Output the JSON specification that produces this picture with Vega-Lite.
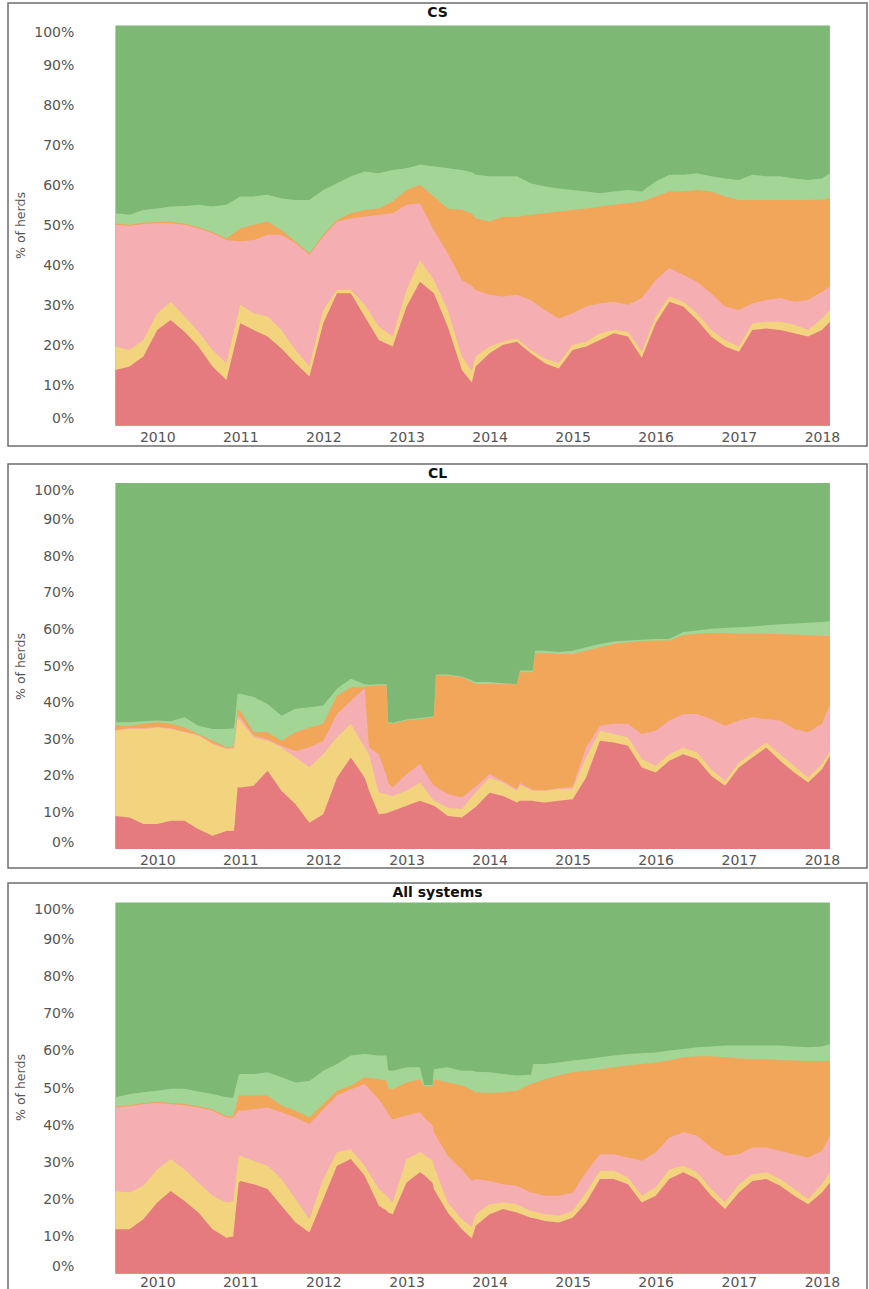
{
  "$schema": "https://vega.github.io/schema/vega-lite/v6.json",
  "background": "white",
  "padding": {"left": 7, "top": 2, "right": 3, "bottom": 0},
  "spacing": 16,
  "config": {
    "view": {"stroke": "#6e6e6e", "strokeWidth": 1.5},
    "axis": {"grid": false, "ticks": false, "domain": false, "labelFont": "DejaVu Sans", "labelFontSize": 14, "labelColor": "#555555", "titleFont": "DejaVu Sans", "titleFontWeight": "normal", "titleColor": "#555555", "titleFontSize": 12.5},
    "title": {"font": "DejaVu Sans", "fontSize": 14, "fontWeight": "bold", "color": "#111111", "anchor": "middle", "frame": "group", "baseline": "top", "offset": -17},
    "area": {"interpolate": "linear"},
    "rule": {"color": "#d9d9d9", "strokeWidth": 1}
  },
  "datasets": {
    "cs": [
      {"date":"2009-07-01","red":13.9,"yellow":19.8,"pink":50.2,"orange":50.5,"lightgreen":53.1},
      {"date":"2009-09-01","red":14.8,"yellow":18.9,"pink":49.9,"orange":50.2,"lightgreen":52.7},
      {"date":"2009-11-01","red":17.3,"yellow":21.4,"pink":50.4,"orange":50.7,"lightgreen":53.9},
      {"date":"2010-01-01","red":23.9,"yellow":28.1,"pink":50.6,"orange":50.9,"lightgreen":54.3},
      {"date":"2010-03-01","red":26.4,"yellow":31.0,"pink":50.6,"orange":50.9,"lightgreen":54.8},
      {"date":"2010-05-01","red":23.5,"yellow":27.3,"pink":50.2,"orange":50.5,"lightgreen":54.9},
      {"date":"2010-07-01","red":19.8,"yellow":23.5,"pink":49.3,"orange":49.6,"lightgreen":55.2},
      {"date":"2010-09-01","red":14.8,"yellow":18.9,"pink":48.1,"orange":48.4,"lightgreen":54.8},
      {"date":"2010-11-01","red":11.4,"yellow":15.6,"pink":46.4,"orange":46.8,"lightgreen":55.2},
      {"date":"2011-01-01","red":25.6,"yellow":30.2,"pink":46.0,"orange":49.3,"lightgreen":57.3},
      {"date":"2011-03-01","red":23.9,"yellow":28.1,"pink":46.4,"orange":50.2,"lightgreen":57.3},
      {"date":"2011-05-01","red":22.3,"yellow":27.3,"pink":47.7,"orange":51.0,"lightgreen":57.7},
      {"date":"2011-07-01","red":19.3,"yellow":23.9,"pink":47.7,"orange":48.9,"lightgreen":56.8},
      {"date":"2011-09-01","red":15.6,"yellow":18.9,"pink":45.6,"orange":46.0,"lightgreen":56.4},
      {"date":"2011-11-01","red":12.3,"yellow":14.8,"pink":42.7,"orange":43.1,"lightgreen":56.4},
      {"date":"2012-01-01","red":25.6,"yellow":28.9,"pink":47.3,"orange":47.7,"lightgreen":58.9},
      {"date":"2012-03-01","red":33.1,"yellow":33.9,"pink":51.0,"orange":51.4,"lightgreen":60.6},
      {"date":"2012-05-01","red":33.1,"yellow":33.9,"pink":51.8,"orange":53.1,"lightgreen":62.3},
      {"date":"2012-07-01","red":27.3,"yellow":30.2,"pink":52.3,"orange":53.9,"lightgreen":63.5},
      {"date":"2012-09-01","red":21.4,"yellow":24.8,"pink":52.7,"orange":54.3,"lightgreen":63.1},
      {"date":"2012-11-01","red":19.8,"yellow":22.3,"pink":53.1,"orange":56.0,"lightgreen":63.9},
      {"date":"2013-01-01","red":29.8,"yellow":33.9,"pink":55.2,"orange":58.9,"lightgreen":64.3},
      {"date":"2013-03-01","red":36.0,"yellow":41.4,"pink":55.6,"orange":60.2,"lightgreen":65.2},
      {"date":"2013-05-01","red":33.1,"yellow":36.4,"pink":48.9,"orange":57.3,"lightgreen":64.8},
      {"date":"2013-07-01","red":24.8,"yellow":28.9,"pink":43.1,"orange":54.3,"lightgreen":64.3},
      {"date":"2013-09-01","red":13.9,"yellow":17.3,"pink":36.4,"orange":53.9,"lightgreen":63.9},
      {"date":"2013-10-15","red":10.8,"yellow":13.6,"pink":35.0,"orange":53.0,"lightgreen":63.3},
      {"date":"2013-11-01","red":14.8,"yellow":17.3,"pink":33.9,"orange":51.8,"lightgreen":62.7},
      {"date":"2014-01-01","red":18.1,"yellow":19.8,"pink":32.7,"orange":51.0,"lightgreen":62.3},
      {"date":"2014-03-01","red":20.2,"yellow":21.0,"pink":32.3,"orange":52.2,"lightgreen":62.3},
      {"date":"2014-05-01","red":21.0,"yellow":21.8,"pink":32.7,"orange":52.2,"lightgreen":62.3},
      {"date":"2014-07-01","red":18.1,"yellow":18.9,"pink":31.4,"orange":52.7,"lightgreen":60.6},
      {"date":"2014-09-01","red":15.6,"yellow":16.8,"pink":28.9,"orange":53.1,"lightgreen":59.8},
      {"date":"2014-11-01","red":14.3,"yellow":15.6,"pink":26.8,"orange":53.5,"lightgreen":59.3},
      {"date":"2015-01-01","red":18.9,"yellow":20.2,"pink":28.1,"orange":53.9,"lightgreen":58.9},
      {"date":"2015-03-01","red":19.8,"yellow":21.0,"pink":29.8,"orange":54.3,"lightgreen":58.5},
      {"date":"2015-05-01","red":21.4,"yellow":23.1,"pink":30.6,"orange":54.8,"lightgreen":58.1},
      {"date":"2015-07-01","red":23.1,"yellow":23.9,"pink":31.0,"orange":55.2,"lightgreen":58.5},
      {"date":"2015-09-01","red":22.3,"yellow":23.5,"pink":30.2,"orange":55.6,"lightgreen":58.9},
      {"date":"2015-11-01","red":17.0,"yellow":18.5,"pink":31.9,"orange":56.0,"lightgreen":58.5},
      {"date":"2016-01-01","red":25.6,"yellow":27.3,"pink":36.4,"orange":57.3,"lightgreen":61.0},
      {"date":"2016-03-01","red":31.0,"yellow":32.3,"pink":39.4,"orange":58.5,"lightgreen":62.7},
      {"date":"2016-05-01","red":29.8,"yellow":31.0,"pink":37.7,"orange":58.5,"lightgreen":62.7},
      {"date":"2016-07-01","red":26.4,"yellow":28.1,"pink":36.0,"orange":58.9,"lightgreen":63.1},
      {"date":"2016-09-01","red":22.3,"yellow":23.9,"pink":33.1,"orange":58.5,"lightgreen":62.3},
      {"date":"2016-11-01","red":19.8,"yellow":21.4,"pink":29.8,"orange":57.3,"lightgreen":61.8},
      {"date":"2017-01-01","red":18.5,"yellow":19.8,"pink":28.9,"orange":56.4,"lightgreen":61.4},
      {"date":"2017-03-01","red":23.9,"yellow":25.6,"pink":30.6,"orange":56.4,"lightgreen":62.7},
      {"date":"2017-05-01","red":24.3,"yellow":26.0,"pink":31.4,"orange":56.4,"lightgreen":62.3},
      {"date":"2017-07-01","red":23.9,"yellow":26.0,"pink":31.9,"orange":56.4,"lightgreen":62.3},
      {"date":"2017-09-01","red":23.1,"yellow":25.2,"pink":31.0,"orange":56.4,"lightgreen":61.8},
      {"date":"2017-11-01","red":22.3,"yellow":23.9,"pink":31.4,"orange":56.4,"lightgreen":61.4},
      {"date":"2018-01-01","red":23.9,"yellow":26.8,"pink":33.5,"orange":56.5,"lightgreen":61.8},
      {"date":"2018-02-05","red":26.0,"yellow":28.9,"pink":34.8,"orange":56.8,"lightgreen":63.1}
    ],
    "cl": [
      {"date":"2009-07-01","red":9.0,"yellow":32.3,"pink":32.5,"orange":33.7,"lightgreen":34.6},
      {"date":"2009-09-01","red":8.6,"yellow":32.8,"pink":33.0,"orange":33.7,"lightgreen":34.6},
      {"date":"2009-11-01","red":6.8,"yellow":32.8,"pink":33.0,"orange":34.2,"lightgreen":34.9},
      {"date":"2010-01-01","red":6.8,"yellow":33.2,"pink":33.4,"orange":34.6,"lightgreen":35.1},
      {"date":"2010-03-01","red":7.7,"yellow":32.8,"pink":33.0,"orange":34.2,"lightgreen":34.9},
      {"date":"2010-05-01","red":7.7,"yellow":31.9,"pink":32.1,"orange":33.2,"lightgreen":36.0},
      {"date":"2010-07-01","red":5.4,"yellow":31.0,"pink":31.2,"orange":31.4,"lightgreen":33.7},
      {"date":"2010-09-01","red":3.6,"yellow":28.7,"pink":28.9,"orange":29.6,"lightgreen":32.8},
      {"date":"2010-11-01","red":4.9,"yellow":27.3,"pink":27.5,"orange":27.8,"lightgreen":32.8},
      {"date":"2010-12-05","red":5.0,"yellow":27.5,"pink":27.7,"orange":28.0,"lightgreen":33.0},
      {"date":"2010-12-20","red":16.8,"yellow":35.5,"pink":36.5,"orange":38.0,"lightgreen":42.4},
      {"date":"2011-01-01","red":16.8,"yellow":35.1,"pink":36.0,"orange":37.8,"lightgreen":42.4},
      {"date":"2011-03-01","red":17.3,"yellow":30.5,"pink":31.0,"orange":31.9,"lightgreen":41.5},
      {"date":"2011-05-01","red":21.4,"yellow":29.6,"pink":30.0,"orange":31.9,"lightgreen":39.6},
      {"date":"2011-07-01","red":15.9,"yellow":27.8,"pink":28.2,"orange":29.6,"lightgreen":36.4},
      {"date":"2011-09-01","red":12.2,"yellow":25.0,"pink":26.8,"orange":31.9,"lightgreen":38.3},
      {"date":"2011-11-01","red":7.2,"yellow":22.3,"pink":27.8,"orange":33.2,"lightgreen":38.7},
      {"date":"2012-01-01","red":9.5,"yellow":25.9,"pink":29.6,"orange":34.2,"lightgreen":39.2},
      {"date":"2012-03-01","red":19.5,"yellow":30.5,"pink":36.9,"orange":41.9,"lightgreen":43.8},
      {"date":"2012-05-01","red":25.0,"yellow":34.2,"pink":40.5,"orange":44.2,"lightgreen":46.5},
      {"date":"2012-07-01","red":19.5,"yellow":27.8,"pink":43.9,"orange":44.4,"lightgreen":45.0},
      {"date":"2012-07-20","red":15.9,"yellow":25.9,"pink":27.8,"orange":44.5,"lightgreen":44.9},
      {"date":"2012-09-01","red":9.5,"yellow":15.4,"pink":25.9,"orange":44.7,"lightgreen":45.0},
      {"date":"2012-10-05","red":9.8,"yellow":15.0,"pink":20.0,"orange":44.7,"lightgreen":45.0},
      {"date":"2012-10-12","red":10.0,"yellow":14.8,"pink":18.0,"orange":34.4,"lightgreen":34.7},
      {"date":"2012-11-01","red":10.4,"yellow":14.5,"pink":16.8,"orange":34.2,"lightgreen":34.5},
      {"date":"2013-01-01","red":11.8,"yellow":15.9,"pink":20.5,"orange":35.1,"lightgreen":35.4},
      {"date":"2013-03-01","red":13.2,"yellow":18.2,"pink":23.2,"orange":35.5,"lightgreen":35.8},
      {"date":"2013-05-01","red":11.8,"yellow":13.2,"pink":17.3,"orange":36.0,"lightgreen":36.3},
      {"date":"2013-05-10","red":11.5,"yellow":13.0,"pink":17.0,"orange":47.4,"lightgreen":47.7},
      {"date":"2013-07-01","red":9.0,"yellow":11.3,"pink":15.0,"orange":47.4,"lightgreen":47.7},
      {"date":"2013-09-01","red":8.6,"yellow":10.9,"pink":14.1,"orange":46.9,"lightgreen":47.1},
      {"date":"2013-11-01","red":11.5,"yellow":15.5,"pink":17.0,"orange":45.1,"lightgreen":45.6},
      {"date":"2014-01-01","red":15.4,"yellow":19.5,"pink":20.5,"orange":45.1,"lightgreen":45.6},
      {"date":"2014-03-01","red":14.5,"yellow":18.2,"pink":18.6,"orange":45.0,"lightgreen":45.3},
      {"date":"2014-05-01","red":12.7,"yellow":15.9,"pink":16.4,"orange":45.0,"lightgreen":45.1},
      {"date":"2014-05-15","red":13.2,"yellow":17.5,"pink":18.0,"orange":48.3,"lightgreen":48.8},
      {"date":"2014-07-10","red":13.2,"yellow":15.9,"pink":16.2,"orange":48.3,"lightgreen":48.8},
      {"date":"2014-07-20","red":13.0,"yellow":15.9,"pink":16.2,"orange":53.5,"lightgreen":54.2},
      {"date":"2014-09-01","red":12.7,"yellow":15.9,"pink":16.0,"orange":53.5,"lightgreen":54.2},
      {"date":"2014-11-01","red":13.2,"yellow":16.4,"pink":16.7,"orange":53.3,"lightgreen":53.8},
      {"date":"2015-01-01","red":13.6,"yellow":16.4,"pink":17.0,"orange":53.2,"lightgreen":54.2},
      {"date":"2015-03-01","red":19.5,"yellow":25.0,"pink":27.7,"orange":54.2,"lightgreen":55.1},
      {"date":"2015-05-01","red":29.6,"yellow":32.3,"pink":33.7,"orange":55.1,"lightgreen":56.0},
      {"date":"2015-07-01","red":29.1,"yellow":31.4,"pink":34.2,"orange":56.0,"lightgreen":56.7},
      {"date":"2015-09-01","red":28.2,"yellow":30.5,"pink":34.2,"orange":56.5,"lightgreen":57.0},
      {"date":"2015-11-01","red":22.3,"yellow":24.6,"pink":31.4,"orange":56.8,"lightgreen":57.2},
      {"date":"2016-01-01","red":20.9,"yellow":22.7,"pink":32.3,"orange":57.0,"lightgreen":57.4},
      {"date":"2016-03-01","red":24.1,"yellow":25.9,"pink":35.1,"orange":57.0,"lightgreen":57.4},
      {"date":"2016-05-01","red":25.9,"yellow":27.7,"pink":36.9,"orange":58.4,"lightgreen":59.3},
      {"date":"2016-07-01","red":24.6,"yellow":26.4,"pink":36.9,"orange":58.8,"lightgreen":59.7},
      {"date":"2016-09-01","red":20.0,"yellow":21.8,"pink":35.5,"orange":59.0,"lightgreen":60.2},
      {"date":"2016-11-01","red":17.3,"yellow":18.6,"pink":33.7,"orange":59.0,"lightgreen":60.4},
      {"date":"2017-01-01","red":22.3,"yellow":23.6,"pink":35.1,"orange":58.8,"lightgreen":60.6},
      {"date":"2017-03-01","red":25.0,"yellow":26.4,"pink":36.0,"orange":58.8,"lightgreen":60.8},
      {"date":"2017-05-01","red":27.7,"yellow":29.1,"pink":35.5,"orange":58.8,"lightgreen":61.1},
      {"date":"2017-07-01","red":24.1,"yellow":25.9,"pink":35.1,"orange":58.7,"lightgreen":61.4},
      {"date":"2017-09-01","red":20.9,"yellow":22.7,"pink":32.8,"orange":58.6,"lightgreen":61.6},
      {"date":"2017-11-01","red":18.2,"yellow":19.5,"pink":31.9,"orange":58.4,"lightgreen":61.8},
      {"date":"2018-01-01","red":21.8,"yellow":23.2,"pink":34.2,"orange":58.2,"lightgreen":62.0},
      {"date":"2018-02-05","red":25.5,"yellow":26.8,"pink":39.6,"orange":58.1,"lightgreen":62.3}
    ],
    "all": [
      {"date":"2009-07-01","red":12.0,"yellow":22.3,"pink":44.8,"orange":45.1,"lightgreen":47.5},
      {"date":"2009-09-01","red":12.0,"yellow":21.9,"pink":45.1,"orange":45.4,"lightgreen":48.4},
      {"date":"2009-11-01","red":14.7,"yellow":23.7,"pink":45.7,"orange":46.0,"lightgreen":48.9},
      {"date":"2010-01-01","red":19.2,"yellow":28.1,"pink":46.0,"orange":46.3,"lightgreen":49.3},
      {"date":"2010-03-01","red":22.3,"yellow":30.9,"pink":45.7,"orange":46.0,"lightgreen":49.8},
      {"date":"2010-05-01","red":19.6,"yellow":28.1,"pink":45.4,"orange":45.7,"lightgreen":49.8},
      {"date":"2010-07-01","red":16.5,"yellow":24.6,"pink":44.8,"orange":45.1,"lightgreen":49.1},
      {"date":"2010-09-01","red":12.0,"yellow":21.0,"pink":43.9,"orange":44.2,"lightgreen":48.4},
      {"date":"2010-11-01","red":9.7,"yellow":19.2,"pink":42.1,"orange":42.5,"lightgreen":47.5},
      {"date":"2010-12-01","red":10.0,"yellow":19.5,"pink":42.0,"orange":42.4,"lightgreen":47.4},
      {"date":"2010-12-25","red":24.5,"yellow":31.5,"pink":44.0,"orange":48.0,"lightgreen":53.5},
      {"date":"2011-01-01","red":25.0,"yellow":31.8,"pink":43.9,"orange":48.0,"lightgreen":53.8},
      {"date":"2011-03-01","red":24.1,"yellow":30.4,"pink":44.3,"orange":48.0,"lightgreen":53.8},
      {"date":"2011-05-01","red":22.8,"yellow":29.1,"pink":44.8,"orange":48.0,"lightgreen":54.3},
      {"date":"2011-07-01","red":18.3,"yellow":25.5,"pink":43.5,"orange":45.3,"lightgreen":52.9},
      {"date":"2011-09-01","red":13.8,"yellow":20.1,"pink":42.1,"orange":43.9,"lightgreen":51.5},
      {"date":"2011-11-01","red":11.1,"yellow":14.7,"pink":40.3,"orange":42.1,"lightgreen":51.9},
      {"date":"2012-01-01","red":20.1,"yellow":25.5,"pink":44.3,"orange":45.7,"lightgreen":54.7},
      {"date":"2012-03-01","red":29.1,"yellow":32.7,"pink":48.0,"orange":49.3,"lightgreen":56.5},
      {"date":"2012-05-01","red":30.9,"yellow":33.5,"pink":49.7,"orange":50.7,"lightgreen":58.8},
      {"date":"2012-07-01","red":26.4,"yellow":29.1,"pink":51.1,"orange":52.9,"lightgreen":59.2},
      {"date":"2012-09-01","red":18.3,"yellow":22.8,"pink":47.0,"orange":52.4,"lightgreen":58.8},
      {"date":"2012-10-05","red":17.0,"yellow":21.0,"pink":44.0,"orange":52.0,"lightgreen":58.8},
      {"date":"2012-10-12","red":16.5,"yellow":20.5,"pink":43.0,"orange":50.0,"lightgreen":54.8},
      {"date":"2012-11-01","red":16.0,"yellow":19.2,"pink":41.6,"orange":49.7,"lightgreen":54.7},
      {"date":"2013-01-01","red":24.6,"yellow":30.9,"pink":42.6,"orange":51.5,"lightgreen":55.6},
      {"date":"2013-03-01","red":27.3,"yellow":32.7,"pink":43.5,"orange":52.4,"lightgreen":55.6},
      {"date":"2013-03-20","red":26.5,"yellow":32.0,"pink":42.0,"orange":50.5,"lightgreen":50.8},
      {"date":"2013-04-25","red":24.5,"yellow":30.5,"pink":40.0,"orange":50.5,"lightgreen":50.8},
      {"date":"2013-05-01","red":22.8,"yellow":29.1,"pink":38.1,"orange":52.4,"lightgreen":55.1},
      {"date":"2013-07-01","red":16.5,"yellow":19.2,"pink":31.8,"orange":51.5,"lightgreen":55.6},
      {"date":"2013-09-01","red":12.0,"yellow":14.7,"pink":28.1,"orange":50.7,"lightgreen":54.7},
      {"date":"2013-10-15","red":9.5,"yellow":12.5,"pink":25.0,"orange":49.5,"lightgreen":54.7},
      {"date":"2013-11-01","red":12.9,"yellow":16.0,"pink":25.5,"orange":48.9,"lightgreen":54.4},
      {"date":"2014-01-01","red":16.0,"yellow":18.7,"pink":25.0,"orange":48.7,"lightgreen":54.3},
      {"date":"2014-03-01","red":17.4,"yellow":19.2,"pink":24.1,"orange":48.9,"lightgreen":53.8},
      {"date":"2014-05-01","red":16.5,"yellow":18.7,"pink":23.7,"orange":49.3,"lightgreen":53.4},
      {"date":"2014-07-01","red":15.1,"yellow":16.9,"pink":21.9,"orange":51.1,"lightgreen":53.6},
      {"date":"2014-07-12","red":15.0,"yellow":16.8,"pink":21.8,"orange":51.3,"lightgreen":56.5},
      {"date":"2014-09-01","red":14.2,"yellow":16.0,"pink":21.0,"orange":52.4,"lightgreen":56.5},
      {"date":"2014-11-01","red":13.8,"yellow":15.6,"pink":21.0,"orange":53.4,"lightgreen":56.9},
      {"date":"2015-01-01","red":15.1,"yellow":16.9,"pink":21.9,"orange":54.3,"lightgreen":57.4},
      {"date":"2015-03-01","red":19.2,"yellow":21.9,"pink":27.3,"orange":54.7,"lightgreen":57.8},
      {"date":"2015-05-01","red":25.5,"yellow":27.7,"pink":32.2,"orange":55.1,"lightgreen":58.3},
      {"date":"2015-07-01","red":25.5,"yellow":27.7,"pink":32.2,"orange":55.6,"lightgreen":58.8},
      {"date":"2015-09-01","red":24.1,"yellow":25.9,"pink":31.3,"orange":56.1,"lightgreen":59.2},
      {"date":"2015-11-01","red":19.2,"yellow":21.0,"pink":30.4,"orange":56.5,"lightgreen":59.4},
      {"date":"2016-01-01","red":21.0,"yellow":23.2,"pink":32.7,"orange":56.9,"lightgreen":59.6},
      {"date":"2016-03-01","red":25.5,"yellow":28.1,"pink":36.7,"orange":57.4,"lightgreen":60.1},
      {"date":"2016-05-01","red":27.3,"yellow":29.1,"pink":38.1,"orange":58.3,"lightgreen":60.5},
      {"date":"2016-07-01","red":25.5,"yellow":27.3,"pink":37.2,"orange":58.6,"lightgreen":61.0},
      {"date":"2016-09-01","red":21.0,"yellow":22.8,"pink":34.0,"orange":58.6,"lightgreen":61.2},
      {"date":"2016-11-01","red":17.4,"yellow":19.2,"pink":31.8,"orange":58.3,"lightgreen":61.5},
      {"date":"2017-01-01","red":21.9,"yellow":24.1,"pink":32.2,"orange":58.0,"lightgreen":61.5},
      {"date":"2017-03-01","red":25.0,"yellow":26.8,"pink":34.0,"orange":57.8,"lightgreen":61.5},
      {"date":"2017-05-01","red":25.5,"yellow":27.3,"pink":34.0,"orange":57.8,"lightgreen":61.5},
      {"date":"2017-07-01","red":23.7,"yellow":25.5,"pink":33.1,"orange":57.6,"lightgreen":61.5},
      {"date":"2017-09-01","red":21.0,"yellow":22.8,"pink":32.2,"orange":57.4,"lightgreen":61.2},
      {"date":"2017-11-01","red":18.7,"yellow":20.1,"pink":31.3,"orange":57.3,"lightgreen":61.0},
      {"date":"2018-01-01","red":21.9,"yellow":24.1,"pink":33.1,"orange":57.2,"lightgreen":61.2},
      {"date":"2018-02-05","red":24.6,"yellow":27.3,"pink":37.2,"orange":57.4,"lightgreen":61.9}
    ]
  },
  "vconcat": [
    {
      "title": "CS",
      "width": 859, "height": 443,
      "data": {"name": "cs"},
      "encoding": {"x": {"field": "date", "type": "temporal", "scale": {"type": "utc", "nice": false, "domain": [{"year":2008,"month":3,"date":16,"utc":true},{"year":2018,"month":7,"date":18,"utc":true}]}, "axis": {"orient": "bottom", "offset": -20.3, "values": [{"year":2010,"utc":true},{"year":2011,"utc":true},{"year":2012,"utc":true},{"year":2013,"utc":true},{"year":2014,"utc":true},{"year":2015,"utc":true},{"year":2016,"utc":true},{"year":2017,"utc":true},{"year":2018,"utc":true}], "format": "%Y", "formatType": "utc", "labelPadding": 5, "title": null}}},
      "layer": [
        {"mark": {"type": "area", "color": "#7EB875"}, "encoding": {"y": {"datum": 100, "type": "quantitative", "scale": {"domain": [-5.07, 105.62], "nice": false}, "axis": {"orient": "left", "offset": -71.3, "values": [0,10,20,30,40,50,60,70,80,90,100], "labelExpr": "datum.value + '%'", "labelPadding": 5.5, "labelOffset": {"condition": {"test": "datum.value >= 100", "value": 7.5}, "value": 0}, "labelBaseline": {"condition": {"test": "datum.value <= 0", "value": "bottom"}, "value": "middle"}, "title": "% of herds", "titleX": -52, "titleY": 222}}, "y2": {"datum": 0}}},
        {"mark": {"type": "area", "color": "#A3D597"}, "encoding": {"y": {"field": "lightgreen", "type": "quantitative", "scale": {"domain": [-5.07, 105.62], "nice": false}}, "y2": {"datum": 0}}},
        {"mark": {"type": "area", "color": "#F1A659"}, "encoding": {"y": {"field": "orange", "type": "quantitative", "scale": {"domain": [-5.07, 105.62], "nice": false}}, "y2": {"datum": 0}}},
        {"mark": {"type": "area", "color": "#F5AEB1"}, "encoding": {"y": {"field": "pink", "type": "quantitative", "scale": {"domain": [-5.07, 105.62], "nice": false}}, "y2": {"datum": 0}}},
        {"mark": {"type": "area", "color": "#F2D47F"}, "encoding": {"y": {"field": "yellow", "type": "quantitative", "scale": {"domain": [-5.07, 105.62], "nice": false}}, "y2": {"datum": 0}}},
        {"mark": {"type": "area", "color": "#E57B7F"}, "encoding": {"y": {"field": "red", "type": "quantitative", "scale": {"domain": [-5.07, 105.62], "nice": false}}, "y2": {"datum": 0}}},
        {"data": {"values": [{}]}, "mark": "rule", "encoding": {"x": {"datum": {"year":2009,"month":1,"date":24,"utc":true}, "type": "temporal", "scale": {"type": "utc", "nice": false, "domain": [{"year":2008,"month":3,"date":16,"utc":true},{"year":2018,"month":7,"date":18,"utc":true}]}}, "y": {"datum": 0, "type": "quantitative", "scale": {"domain": [-5.07, 105.62], "nice": false}}, "y2": {"datum": 100}}},
        {"data": {"values": [{}]}, "mark": "rule", "encoding": {"x": {"datum": {"year":2009,"month":1,"date":24,"utc":true}, "type": "temporal", "scale": {"type": "utc", "nice": false, "domain": [{"year":2008,"month":3,"date":16,"utc":true},{"year":2018,"month":7,"date":18,"utc":true}]}}, "x2": {"datum": {"year":2018,"month":7,"date":8,"utc":true}}, "y": {"datum": 0, "type": "quantitative", "scale": {"domain": [-5.07, 105.62], "nice": false}}}}
      ]
    },
    {
      "spacing": 13,
      "vconcat": [
        {
          "title": "CL",
          "width": 859, "height": 404,
          "data": {"name": "cl"},
          "encoding": {"x": {"field": "date", "type": "temporal", "scale": {"type": "utc", "nice": false, "domain": [{"year":2008,"month":3,"date":16,"utc":true},{"year":2018,"month":7,"date":18,"utc":true}]}, "axis": {"orient": "bottom", "offset": -19, "values": [{"year":2010,"utc":true},{"year":2011,"utc":true},{"year":2012,"utc":true},{"year":2013,"utc":true},{"year":2014,"utc":true},{"year":2015,"utc":true},{"year":2016,"utc":true},{"year":2017,"utc":true},{"year":2018,"utc":true}], "format": "%Y", "formatType": "utc", "labelPadding": 4, "title": null}}},
          "layer": [
            {"mark": {"type": "area", "color": "#7EB875"}, "encoding": {"y": {"datum": 100, "type": "quantitative", "scale": {"domain": [-5.19, 105.19], "nice": false}, "axis": {"orient": "left", "offset": -71.3, "values": [0,10,20,30,40,50,60,70,80,90,100], "labelExpr": "datum.value + '%'", "labelPadding": 5.5, "labelOffset": {"condition": {"test": "datum.value >= 100", "value": 7.5}, "value": 0}, "labelBaseline": {"condition": {"test": "datum.value <= 0", "value": "bottom"}, "value": "middle"}, "title": "% of herds", "titleX": -52, "titleY": 202}}, "y2": {"datum": 0}}},
            {"mark": {"type": "area", "color": "#A3D597"}, "encoding": {"y": {"field": "lightgreen", "type": "quantitative", "scale": {"domain": [-5.19, 105.19], "nice": false}}, "y2": {"datum": 0}}},
            {"mark": {"type": "area", "color": "#F1A659"}, "encoding": {"y": {"field": "orange", "type": "quantitative", "scale": {"domain": [-5.19, 105.19], "nice": false}}, "y2": {"datum": 0}}},
            {"mark": {"type": "area", "color": "#F5AEB1"}, "encoding": {"y": {"field": "pink", "type": "quantitative", "scale": {"domain": [-5.19, 105.19], "nice": false}}, "y2": {"datum": 0}}},
            {"mark": {"type": "area", "color": "#F2D47F"}, "encoding": {"y": {"field": "yellow", "type": "quantitative", "scale": {"domain": [-5.19, 105.19], "nice": false}}, "y2": {"datum": 0}}},
            {"mark": {"type": "area", "color": "#E57B7F"}, "encoding": {"y": {"field": "red", "type": "quantitative", "scale": {"domain": [-5.19, 105.19], "nice": false}}, "y2": {"datum": 0}}},
            {"data": {"values": [{}]}, "mark": "rule", "encoding": {"x": {"datum": {"year":2009,"month":1,"date":24,"utc":true}, "type": "temporal", "scale": {"type": "utc", "nice": false, "domain": [{"year":2008,"month":3,"date":16,"utc":true},{"year":2018,"month":7,"date":18,"utc":true}]}}, "y": {"datum": 0, "type": "quantitative", "scale": {"domain": [-5.19, 105.19], "nice": false}}, "y2": {"datum": 100}}},
            {"data": {"values": [{}]}, "mark": "rule", "encoding": {"x": {"datum": {"year":2009,"month":1,"date":24,"utc":true}, "type": "temporal", "scale": {"type": "utc", "nice": false, "domain": [{"year":2008,"month":3,"date":16,"utc":true},{"year":2018,"month":7,"date":18,"utc":true}]}}, "x2": {"datum": {"year":2018,"month":7,"date":8,"utc":true}}, "y": {"datum": 0, "type": "quantitative", "scale": {"domain": [-5.19, 105.19], "nice": false}}}}
          ]
        },
        {
          "title": "All systems",
          "width": 859, "height": 411,
          "data": {"name": "all"},
          "encoding": {"x": {"field": "date", "type": "temporal", "scale": {"type": "utc", "nice": false, "domain": [{"year":2008,"month":3,"date":16,"utc":true},{"year":2018,"month":7,"date":18,"utc":true}]}, "axis": {"orient": "bottom", "offset": -20.3, "values": [{"year":2010,"utc":true},{"year":2011,"utc":true},{"year":2012,"utc":true},{"year":2013,"utc":true},{"year":2014,"utc":true},{"year":2015,"utc":true},{"year":2016,"utc":true},{"year":2017,"utc":true},{"year":2018,"utc":true}], "format": "%Y", "formatType": "utc", "labelPadding": 1.5, "title": null}}},
          "layer": [
            {"mark": {"type": "area", "color": "#7EB875"}, "encoding": {"y": {"datum": 100, "type": "quantitative", "scale": {"domain": [-5.47, 105.25], "nice": false}, "axis": {"orient": "left", "offset": -71.3, "values": [0,10,20,30,40,50,60,70,80,90,100], "labelExpr": "datum.value + '%'", "labelPadding": 5.5, "labelOffset": {"condition": {"test": "datum.value >= 100", "value": 7.5}, "value": 0}, "labelBaseline": {"condition": {"test": "datum.value <= 0", "value": "bottom"}, "value": "middle"}, "title": "% of herds", "titleX": -52, "titleY": 204}}, "y2": {"datum": 0}}},
            {"mark": {"type": "area", "color": "#A3D597"}, "encoding": {"y": {"field": "lightgreen", "type": "quantitative", "scale": {"domain": [-5.47, 105.25], "nice": false}}, "y2": {"datum": 0}}},
            {"mark": {"type": "area", "color": "#F1A659"}, "encoding": {"y": {"field": "orange", "type": "quantitative", "scale": {"domain": [-5.47, 105.25], "nice": false}}, "y2": {"datum": 0}}},
            {"mark": {"type": "area", "color": "#F5AEB1"}, "encoding": {"y": {"field": "pink", "type": "quantitative", "scale": {"domain": [-5.47, 105.25], "nice": false}}, "y2": {"datum": 0}}},
            {"mark": {"type": "area", "color": "#F2D47F"}, "encoding": {"y": {"field": "yellow", "type": "quantitative", "scale": {"domain": [-5.47, 105.25], "nice": false}}, "y2": {"datum": 0}}},
            {"mark": {"type": "area", "color": "#E57B7F"}, "encoding": {"y": {"field": "red", "type": "quantitative", "scale": {"domain": [-5.47, 105.25], "nice": false}}, "y2": {"datum": 0}}},
            {"data": {"values": [{}]}, "mark": "rule", "encoding": {"x": {"datum": {"year":2009,"month":1,"date":24,"utc":true}, "type": "temporal", "scale": {"type": "utc", "nice": false, "domain": [{"year":2008,"month":3,"date":16,"utc":true},{"year":2018,"month":7,"date":18,"utc":true}]}}, "y": {"datum": 0, "type": "quantitative", "scale": {"domain": [-5.47, 105.25], "nice": false}}, "y2": {"datum": 100}}},
            {"data": {"values": [{}]}, "mark": "rule", "encoding": {"x": {"datum": {"year":2009,"month":1,"date":24,"utc":true}, "type": "temporal", "scale": {"type": "utc", "nice": false, "domain": [{"year":2008,"month":3,"date":16,"utc":true},{"year":2018,"month":7,"date":18,"utc":true}]}}, "x2": {"datum": {"year":2018,"month":7,"date":8,"utc":true}}, "y": {"datum": 0, "type": "quantitative", "scale": {"domain": [-5.47, 105.25], "nice": false}}}}
          ]
        }
      ]
    }
  ]
}
